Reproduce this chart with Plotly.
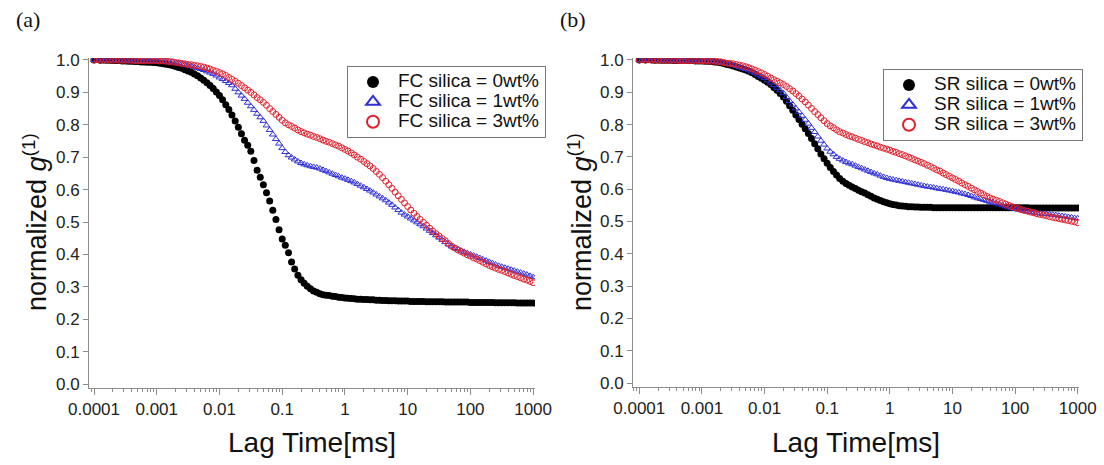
import plotly.graph_objects as go

# lag time grid (ms), 20 points per decade
LAG_TIME_MS = [
    1.00e-4, 1.12e-4, 1.26e-4, 1.41e-4, 1.58e-4, 1.78e-4, 2.00e-4, 2.24e-4, 2.51e-4, 2.82e-4,
    3.16e-4, 3.55e-4, 3.98e-4, 4.47e-4, 5.01e-4, 5.62e-4, 6.31e-4, 7.08e-4, 7.94e-4, 8.91e-4,
    1.00e-3, 1.12e-3, 1.26e-3, 1.41e-3, 1.58e-3, 1.78e-3, 2.00e-3, 2.24e-3, 2.51e-3, 2.82e-3,
    3.16e-3, 3.55e-3, 3.98e-3, 4.47e-3, 5.01e-3, 5.62e-3, 6.31e-3, 7.08e-3, 7.94e-3, 8.91e-3,
    1.00e-2, 1.12e-2, 1.26e-2, 1.41e-2, 1.58e-2, 1.78e-2, 2.00e-2, 2.24e-2, 2.51e-2, 2.82e-2,
    3.16e-2, 3.55e-2, 3.98e-2, 4.47e-2, 5.01e-2, 5.62e-2, 6.31e-2, 7.08e-2, 7.94e-2, 8.91e-2,
    0.100, 0.112, 0.126, 0.141, 0.158, 0.178, 0.200, 0.224, 0.251, 0.282,
    0.316, 0.355, 0.398, 0.447, 0.501, 0.562, 0.631, 0.708, 0.794, 0.891,
    1.00, 1.12, 1.26, 1.41, 1.58, 1.78, 2.00, 2.24, 2.51, 2.82,
    3.16, 3.55, 3.98, 4.47, 5.01, 5.62, 6.31, 7.08, 7.94, 8.91,
    10.0, 11.2, 12.6, 14.1, 15.8, 17.8, 20.0, 22.4, 25.1, 28.2,
    31.6, 35.5, 39.8, 44.7, 50.1, 56.2, 63.1, 70.8, 79.4, 89.1,
    100.0, 112.0, 126.0, 141.0, 158.0, 178.0, 200.0, 224.0, 251.0, 282.0,
    316.0, 355.0, 398.0, 447.0, 501.0, 562.0, 631.0, 708.0, 794.0, 891.0,
    1000.0,
]

# (a) FC silica
fc_0wt = [
    1.000, 1.001, 0.999, 1.000, 0.999, 0.999, 0.998, 0.998, 0.998, 0.997,
    0.997, 0.996, 0.996, 0.995, 0.995, 0.994, 0.994, 0.993, 0.993, 0.992,
    0.991, 0.990, 0.988, 0.987, 0.985, 0.983, 0.980, 0.977, 0.974, 0.970,
    0.966, 0.962, 0.957, 0.951, 0.944, 0.937, 0.930, 0.921, 0.912, 0.901,
    0.890, 0.877, 0.862, 0.847, 0.830, 0.812, 0.792, 0.772, 0.752, 0.737,
    0.718, 0.690, 0.660, 0.638, 0.615, 0.590, 0.565, 0.536, 0.508, 0.476,
    0.448, 0.428, 0.405, 0.377, 0.355, 0.336, 0.322, 0.311, 0.302, 0.294,
    0.287, 0.283, 0.279, 0.276, 0.274, 0.273, 0.271, 0.270, 0.268, 0.267,
    0.266, 0.265, 0.264, 0.263, 0.262, 0.262, 0.261, 0.261, 0.260, 0.260,
    0.259, 0.259, 0.258, 0.258, 0.257, 0.257, 0.257, 0.256, 0.256, 0.256,
    0.256, 0.255, 0.255, 0.255, 0.255, 0.255, 0.254, 0.254, 0.254, 0.254,
    0.254, 0.254, 0.253, 0.253, 0.253, 0.253, 0.253, 0.253, 0.253, 0.253,
    0.252, 0.252, 0.252, 0.252, 0.252, 0.252, 0.252, 0.252, 0.251, 0.251,
    0.251, 0.251, 0.251, 0.251, 0.251, 0.250, 0.250, 0.250, 0.250, 0.250,
    0.250,
]
fc_1wt = [
    1.000, 0.999, 1.002, 1.000, 1.000, 0.999, 1.000, 0.999, 0.999, 0.999,
    0.999, 0.998, 0.998, 0.998, 0.998, 0.998, 0.997, 0.997, 0.997, 0.997,
    0.997, 0.996, 0.996, 0.995, 0.995, 0.994, 0.992, 0.990, 0.988, 0.986,
    0.983, 0.981, 0.978, 0.975, 0.972, 0.969, 0.965, 0.961, 0.957, 0.952,
    0.946, 0.941, 0.935, 0.929, 0.922, 0.911, 0.900, 0.890, 0.880, 0.868,
    0.857, 0.846, 0.834, 0.823, 0.812, 0.798, 0.784, 0.770, 0.756, 0.742,
    0.728, 0.716, 0.706, 0.699, 0.693, 0.687, 0.682, 0.678, 0.675, 0.672,
    0.670, 0.668, 0.665, 0.661, 0.657, 0.653, 0.649, 0.645, 0.641, 0.637,
    0.634, 0.630, 0.626, 0.622, 0.617, 0.612, 0.607, 0.602, 0.597, 0.591,
    0.585, 0.579, 0.573, 0.567, 0.560, 0.553, 0.545, 0.537, 0.529, 0.523,
    0.517, 0.511, 0.505, 0.499, 0.493, 0.487, 0.480, 0.473, 0.466, 0.459,
    0.452, 0.445, 0.438, 0.431, 0.425, 0.420, 0.416, 0.412, 0.408, 0.404,
    0.400, 0.397, 0.393, 0.389, 0.385, 0.381, 0.377, 0.373, 0.369, 0.365,
    0.362, 0.359, 0.356, 0.353, 0.350, 0.347, 0.344, 0.341, 0.338, 0.334,
    0.330,
]
fc_3wt = [
    1.000, 1.001, 1.000, 1.000, 1.001, 1.000, 0.999, 1.000, 0.999, 0.999,
    0.999, 0.999, 0.999, 0.998, 0.998, 0.998, 0.998, 0.998, 0.998, 0.998,
    0.998, 0.997, 0.997, 0.996, 0.995, 0.994, 0.992, 0.991, 0.989, 0.988,
    0.986, 0.985, 0.983, 0.982, 0.980, 0.978, 0.975, 0.972, 0.968, 0.965,
    0.961, 0.957, 0.952, 0.946, 0.940, 0.934, 0.928, 0.921, 0.914, 0.907,
    0.900, 0.892, 0.884, 0.877, 0.869, 0.860, 0.850, 0.841, 0.832, 0.823,
    0.814, 0.806, 0.800, 0.795, 0.790, 0.784, 0.779, 0.775, 0.771, 0.768,
    0.764, 0.761, 0.757, 0.753, 0.749, 0.746, 0.742, 0.738, 0.734, 0.729,
    0.724, 0.719, 0.713, 0.707, 0.700, 0.694, 0.687, 0.680, 0.673, 0.665,
    0.656, 0.647, 0.637, 0.626, 0.615, 0.604, 0.592, 0.581, 0.570, 0.559,
    0.548, 0.537, 0.527, 0.517, 0.508, 0.499, 0.490, 0.481, 0.472, 0.464,
    0.457, 0.449, 0.442, 0.434, 0.426, 0.420, 0.414, 0.409, 0.404, 0.399,
    0.395, 0.390, 0.386, 0.381, 0.376, 0.371, 0.366, 0.362, 0.358, 0.354,
    0.351, 0.347, 0.343, 0.339, 0.335, 0.332, 0.328, 0.324, 0.321, 0.317,
    0.313,
]

# (b) SR silica
sr_0wt = [
    1.000, 1.001, 1.000, 1.001, 1.000, 0.999, 1.000, 0.999, 0.999, 0.999,
    0.999, 0.998, 0.998, 0.998, 0.998, 0.998, 0.998, 0.998, 0.997, 0.997,
    0.997, 0.996, 0.996, 0.995, 0.994, 0.993, 0.991, 0.989, 0.986, 0.984,
    0.981, 0.978, 0.975, 0.972, 0.969, 0.965, 0.960, 0.955, 0.949, 0.943,
    0.937, 0.931, 0.924, 0.915, 0.906, 0.896, 0.885, 0.872, 0.858, 0.844,
    0.830, 0.816, 0.801, 0.787, 0.772, 0.757, 0.741, 0.725, 0.709, 0.694,
    0.680, 0.667, 0.655, 0.644, 0.633, 0.625, 0.618, 0.612, 0.607, 0.602,
    0.597, 0.592, 0.588, 0.583, 0.578, 0.573, 0.569, 0.565, 0.561, 0.558,
    0.555, 0.553, 0.551, 0.549, 0.548, 0.547, 0.546, 0.546, 0.545, 0.545,
    0.544, 0.544, 0.544, 0.544, 0.543, 0.543, 0.543, 0.543, 0.543, 0.543,
    0.543, 0.543, 0.543, 0.543, 0.543, 0.543, 0.543, 0.543, 0.543, 0.543,
    0.543, 0.543, 0.543, 0.543, 0.543, 0.543, 0.543, 0.543, 0.543, 0.543,
    0.543, 0.543, 0.543, 0.543, 0.543, 0.542, 0.542, 0.542, 0.542, 0.542,
    0.542, 0.542, 0.542, 0.542, 0.542, 0.542, 0.542, 0.542, 0.542, 0.542,
    0.542,
]
sr_1wt = [
    1.000, 1.000, 1.002, 1.000, 1.000, 0.999, 1.000, 0.999, 0.999, 0.999,
    0.999, 0.999, 0.998, 0.998, 0.998, 0.998, 0.998, 0.998, 0.998, 0.998,
    0.998, 0.997, 0.997, 0.996, 0.996, 0.994, 0.993, 0.991, 0.989, 0.987,
    0.984, 0.981, 0.978, 0.975, 0.972, 0.968, 0.964, 0.959, 0.954, 0.949,
    0.944, 0.937, 0.930, 0.922, 0.914, 0.906, 0.897, 0.885, 0.873, 0.862,
    0.850, 0.839, 0.827, 0.815, 0.803, 0.790, 0.777, 0.763, 0.750, 0.738,
    0.726, 0.716, 0.708, 0.700, 0.694, 0.689, 0.684, 0.680, 0.677, 0.673,
    0.669, 0.665, 0.661, 0.657, 0.653, 0.649, 0.646, 0.642, 0.638, 0.635,
    0.632, 0.630, 0.628, 0.626, 0.624, 0.622, 0.620, 0.618, 0.616, 0.614,
    0.612, 0.610, 0.608, 0.607, 0.605, 0.603, 0.601, 0.600, 0.598, 0.596,
    0.594, 0.592, 0.590, 0.587, 0.585, 0.582, 0.579, 0.575, 0.572, 0.570,
    0.567, 0.564, 0.561, 0.558, 0.556, 0.553, 0.550, 0.547, 0.544, 0.541,
    0.539, 0.537, 0.535, 0.533, 0.531, 0.529, 0.528, 0.526, 0.525, 0.524,
    0.523, 0.522, 0.521, 0.520, 0.518, 0.517, 0.516, 0.514, 0.513, 0.511,
    0.510,
]
sr_3wt = [
    1.000, 1.001, 1.000, 1.001, 1.000, 1.000, 0.999, 1.000, 0.999, 0.999,
    0.999, 0.999, 0.999, 0.998, 0.998, 0.998, 0.998, 0.998, 0.998, 0.998,
    0.998, 0.997, 0.997, 0.996, 0.996, 0.995, 0.994, 0.992, 0.990, 0.989,
    0.988, 0.986, 0.984, 0.982, 0.979, 0.976, 0.972, 0.968, 0.964, 0.960,
    0.955, 0.950, 0.944, 0.939, 0.934, 0.929, 0.924, 0.918, 0.911, 0.904,
    0.896, 0.888, 0.879, 0.870, 0.860, 0.850, 0.840, 0.831, 0.821, 0.812,
    0.803, 0.796, 0.790, 0.784, 0.778, 0.774, 0.769, 0.765, 0.762, 0.758,
    0.754, 0.751, 0.747, 0.744, 0.740, 0.737, 0.734, 0.730, 0.727, 0.724,
    0.721, 0.717, 0.714, 0.710, 0.707, 0.703, 0.699, 0.695, 0.691, 0.687,
    0.683, 0.679, 0.674, 0.670, 0.665, 0.660, 0.656, 0.650, 0.645, 0.640,
    0.635, 0.630, 0.625, 0.619, 0.614, 0.609, 0.603, 0.598, 0.593, 0.588,
    0.583, 0.578, 0.573, 0.569, 0.566, 0.562, 0.558, 0.554, 0.550, 0.546,
    0.543, 0.540, 0.537, 0.534, 0.532, 0.529, 0.527, 0.524, 0.522, 0.520,
    0.518, 0.515, 0.513, 0.511, 0.509, 0.507, 0.505, 0.503, 0.501, 0.499,
    0.496,
]

tick_vals = [0.0001, 0.001, 0.01, 0.1, 1, 10, 100, 1000]
tick_text = ["0.0001", "0.001", "0.01", "0.1", "1", "10", "100", "1000"]

W, H = 1104, 465
FONT = "Liberation Sans, Arial, sans-serif"
AXIS_GREY = "#8c8c8c"
BLACK = "#000000"
BLUE = "#2f2fd8"
RED = "#e0202c"


def px(x):
    return x / W


def py(y):
    return 1 - y / H


fig = go.Figure()

# one panel = three series; black drawn first, red ends on top
panels = [
    ("FC", [fc_0wt, fc_1wt, fc_3wt], "x", "y", "legend"),
    ("SR", [sr_0wt, sr_1wt, sr_3wt], "x2", "y2", "legend2"),
]
styles = [
    ("0wt%", dict(symbol="circle", size=7, color=BLACK, line=dict(width=0))),
    ("1wt%", dict(symbol="triangle-up-open", size=6, color=BLUE, line=dict(width=1, color=BLUE))),
    ("3wt%", dict(symbol="circle-open", size=6, color=RED, line=dict(width=1, color=RED))),
]
for kind, series, xa, ya, leg in panels:
    for vals, (wt, marker) in zip(series, styles):
        # big text inside a small legend font keeps the legend rows tight
        fig.add_trace(go.Scatter(
            x=LAG_TIME_MS, y=vals, mode="markers",
            name="<span style='font-size:19px'>{} silica = {}</span>".format(kind, wt),
            marker=marker, xaxis=xa, yaxis=ya, legend=leg,
        ))

xcommon = dict(
    type="log", showline=True, linecolor=AXIS_GREY, linewidth=1, automargin=False,
    ticks="outside", ticklen=6, tickcolor=AXIS_GREY, tickwidth=1,
    tickvals=tick_vals, ticktext=tick_text, showgrid=False, zeroline=False,
    tickfont=dict(family=FONT, size=17, color="#222222"),
    minor=dict(ticks="outside", ticklen=3, tickcolor=AXIS_GREY, dtick="D1", showgrid=False),
)
ycommon = dict(
    range=[-0.012, 1.006], showline=True, linecolor=AXIS_GREY, linewidth=1, automargin=False,
    ticks="outside", ticklen=5, tickcolor=AXIS_GREY, tickwidth=1,
    tick0=0, dtick=0.1, tickformat=".1f", showgrid=False, zeroline=False,
    tickfont=dict(family=FONT, size=17, color="#222222"),
)
legcommon = dict(
    xanchor="left", yanchor="top", bgcolor="white",
    bordercolor="#777777", borderwidth=1, itemsizing="constant",
    font=dict(family=FONT, size=13, color="#111111"),
    itemwidth=40, tracegroupgap=0,
)

fig.update_layout(
    width=W, height=H, margin=dict(l=0, r=0, t=0, b=0, autoexpand=False),
    plot_bgcolor="white", paper_bgcolor="white",
    xaxis=dict(xcommon, domain=[px(89), px(535)], range=[-4.08, 3.03], anchor="y"),
    yaxis=dict(ycommon, domain=[py(388), py(58)], anchor="x"),
    xaxis2=dict(xcommon, domain=[px(633), px(1079)], range=[-4.1, 3.02], anchor="y2"),
    yaxis2=dict(ycommon, domain=[py(387), py(58)], anchor="x2"),
    legend=dict(legcommon, x=px(347), y=py(66)),
    legend2=dict(legcommon, x=px(883), y=py(69)),
)

# axis titles and panel labels
for xc, ylab_x, lab, lab_x in [(312, 35, "(a)", 28), (856, 580, "(b)", 573)]:
    fig.add_annotation(
        text="Lag Time[ms]", xref="paper", yref="paper", x=px(xc), y=py(442),
        showarrow=False, font=dict(family=FONT, size=28, color="#111111"),
        xanchor="center", yanchor="middle",
    )
    fig.add_annotation(
        text="normalized <i>g</i><sup>(1)</sup>", xref="paper", yref="paper",
        x=px(ylab_x), y=py(313), textangle=-90, showarrow=False,
        font=dict(family=FONT, size=27, color="#111111"),
        xanchor="center", yanchor="bottom",
    )
    fig.add_annotation(
        text=lab, xref="paper", yref="paper", x=px(lab_x), y=py(20),
        showarrow=False, font=dict(family="Liberation Serif, Times New Roman, serif", size=22, color="#111111"),
        xanchor="center", yanchor="middle",
    )

# page body has a default 8px margin; drop it so the figure sits at the window corner
fig.write_html(
    "out.html",
    config={"displayModeBar": False},
    post_script="document.body.style.margin = '0px';",
)
